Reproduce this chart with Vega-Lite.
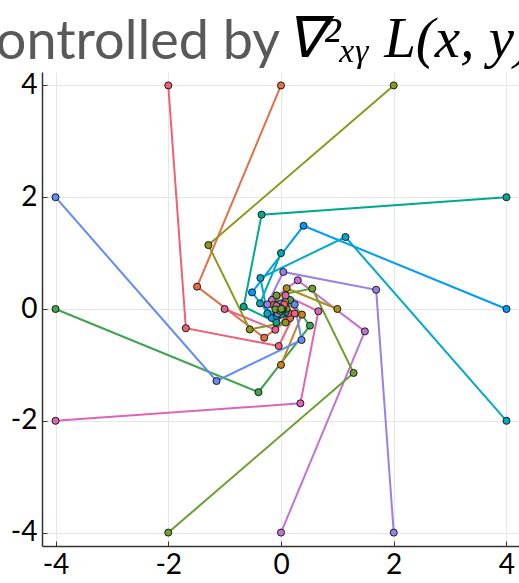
{
  "$schema": "https://vega.github.io/schema/vega-lite/v6.json",
  "width": 478,
  "height": 474,
  "autosize": {"type": "none"},
  "padding": {"left": 42, "top": 72, "right": 0, "bottom": 37},
  "background": "white",
  "config": {"view": {"stroke": null}},
  "data": {"values": [
    {"s":1,"k":0,"x":4,"y":0},{"s":1,"k":1,"x":0.4,"y":1.488},{"s":1,"k":2,"x":-0.5136,"y":0.2976},{"s":1,"k":3,"x":-0.1621,"y":-0.1613},{"s":1,"k":4,"x":0.0438,"y":-0.0764},{"s":1,"k":5,"x":0.0328,"y":0.0086},{"s":1,"k":6,"x":0.0001,"y":0.0131},{"s":1,"k":7,"x":-0.0049,"y":0.0013},
    {"s":2,"k":0,"x":0,"y":4},{"s":2,"k":1,"x":-1.488,"y":0.4},{"s":2,"k":2,"x":-0.2976,"y":-0.5136},{"s":2,"k":3,"x":0.1613,"y":-0.1621},{"s":2,"k":4,"x":0.0764,"y":0.0438},{"s":2,"k":5,"x":-0.0086,"y":0.0328},{"s":2,"k":6,"x":-0.0131,"y":0.0001},{"s":2,"k":7,"x":-0.0013,"y":-0.0049},
    {"s":3,"k":0,"x":-4,"y":0},{"s":3,"k":1,"x":-0.4,"y":-1.488},{"s":3,"k":2,"x":0.5136,"y":-0.2976},{"s":3,"k":3,"x":0.1621,"y":0.1613},{"s":3,"k":4,"x":-0.0438,"y":0.0764},{"s":3,"k":5,"x":-0.0328,"y":-0.0086},{"s":3,"k":6,"x":-0.0001,"y":-0.0131},{"s":3,"k":7,"x":0.0049,"y":-0.0013},
    {"s":4,"k":0,"x":0,"y":-4},{"s":4,"k":1,"x":1.488,"y":-0.4},{"s":4,"k":2,"x":0.2976,"y":0.5136},{"s":4,"k":3,"x":-0.1613,"y":0.1621},{"s":4,"k":4,"x":-0.0764,"y":-0.0438},{"s":4,"k":5,"x":0.0086,"y":-0.0328},{"s":4,"k":6,"x":0.0131,"y":-0.0001},{"s":4,"k":7,"x":0.0013,"y":0.0049},
    {"s":5,"k":0,"x":1,"y":0},{"s":5,"k":1,"x":0.1,"y":0.372},{"s":5,"k":2,"x":-0.1284,"y":0.0744},{"s":5,"k":3,"x":-0.0405,"y":-0.0403},{"s":5,"k":4,"x":0.011,"y":-0.0191},{"s":5,"k":5,"x":0.0082,"y":0.0022},{"s":5,"k":6,"x":0,"y":0.0033},{"s":5,"k":7,"x":-0.0012,"y":0.0003},
    {"s":6,"k":0,"x":0,"y":1},{"s":6,"k":1,"x":-0.372,"y":0.1},{"s":6,"k":2,"x":-0.0744,"y":-0.1284},{"s":6,"k":3,"x":0.0403,"y":-0.0405},{"s":6,"k":4,"x":0.0191,"y":0.011},{"s":6,"k":5,"x":-0.0022,"y":0.0082},{"s":6,"k":6,"x":-0.0033,"y":0},{"s":6,"k":7,"x":-0.0003,"y":-0.0012},
    {"s":7,"k":0,"x":-1,"y":0},{"s":7,"k":1,"x":-0.1,"y":-0.372},{"s":7,"k":2,"x":0.1284,"y":-0.0744},{"s":7,"k":3,"x":0.0405,"y":0.0403},{"s":7,"k":4,"x":-0.011,"y":0.0191},{"s":7,"k":5,"x":-0.0082,"y":-0.0022},{"s":7,"k":6,"x":0,"y":-0.0033},{"s":7,"k":7,"x":0.0012,"y":-0.0003},
    {"s":8,"k":0,"x":0,"y":-1},{"s":8,"k":1,"x":0.372,"y":-0.1},{"s":8,"k":2,"x":0.0744,"y":0.1284},{"s":8,"k":3,"x":-0.0403,"y":0.0405},{"s":8,"k":4,"x":-0.0191,"y":-0.011},{"s":8,"k":5,"x":0.0022,"y":-0.0082},{"s":8,"k":6,"x":0.0033,"y":0},{"s":8,"k":7,"x":0.0003,"y":0.0012},
    {"s":9,"k":0,"x":4,"y":2},{"s":9,"k":1,"x":-0.344,"y":1.688},{"s":9,"k":2,"x":-0.6624,"y":0.0408},{"s":9,"k":3,"x":-0.0814,"y":-0.2422},{"s":9,"k":4,"x":0.082,"y":-0.0545},{"s":9,"k":5,"x":0.0285,"y":0.025},{"s":9,"k":6,"x":-0.0065,"y":0.0131},{"s":9,"k":7,"x":-0.0055,"y":-0.0011},
    {"s":10,"k":0,"x":2,"y":4},{"s":10,"k":1,"x":-1.288,"y":1.144},{"s":10,"k":2,"x":-0.5544,"y":-0.3648},{"s":10,"k":3,"x":0.0802,"y":-0.2426},{"s":10,"k":4,"x":0.0983,"y":0.0056},{"s":10,"k":5,"x":0.0078,"y":0.0371},{"s":10,"k":6,"x":-0.013,"y":0.0066},{"s":10,"k":7,"x":-0.0038,"y":-0.0042},
    {"s":11,"k":0,"x":4,"y":-2},{"s":11,"k":1,"x":1.144,"y":1.288},{"s":11,"k":2,"x":-0.3648,"y":0.5544},{"s":11,"k":3,"x":-0.2426,"y":-0.0802},{"s":11,"k":4,"x":0.0056,"y":-0.0983},{"s":11,"k":5,"x":0.0371,"y":-0.0078},{"s":11,"k":6,"x":0.0066,"y":0.0131},{"s":11,"k":7,"x":-0.0042,"y":0.0038},
    {"s":12,"k":0,"x":2,"y":-4},{"s":12,"k":1,"x":1.688,"y":0.344},{"s":12,"k":2,"x":0.0408,"y":0.6624},{"s":12,"k":3,"x":-0.2422,"y":0.0814},{"s":12,"k":4,"x":-0.0545,"y":-0.082},{"s":12,"k":5,"x":0.025,"y":-0.0285},{"s":12,"k":6,"x":0.0131,"y":0.0065},{"s":12,"k":7,"x":-0.0011,"y":0.0055},
    {"s":13,"k":0,"x":-4,"y":2},{"s":13,"k":1,"x":-1.144,"y":-1.288},{"s":13,"k":2,"x":0.3648,"y":-0.5544},{"s":13,"k":3,"x":0.2426,"y":0.0802},{"s":13,"k":4,"x":-0.0056,"y":0.0983},{"s":13,"k":5,"x":-0.0371,"y":0.0078},{"s":13,"k":6,"x":-0.0066,"y":-0.0131},{"s":13,"k":7,"x":0.0042,"y":-0.0038},
    {"s":14,"k":0,"x":-2,"y":4},{"s":14,"k":1,"x":-1.688,"y":-0.344},{"s":14,"k":2,"x":-0.0408,"y":-0.6624},{"s":14,"k":3,"x":0.2422,"y":-0.0814},{"s":14,"k":4,"x":0.0545,"y":0.082},{"s":14,"k":5,"x":-0.025,"y":0.0285},{"s":14,"k":6,"x":-0.0131,"y":-0.0065},{"s":14,"k":7,"x":0.0011,"y":-0.0055},
    {"s":15,"k":0,"x":-4,"y":-2},{"s":15,"k":1,"x":0.344,"y":-1.688},{"s":15,"k":2,"x":0.6624,"y":-0.0408},{"s":15,"k":3,"x":0.0814,"y":0.2422},{"s":15,"k":4,"x":-0.082,"y":0.0545},{"s":15,"k":5,"x":-0.0285,"y":-0.025},{"s":15,"k":6,"x":0.0065,"y":-0.0131},{"s":15,"k":7,"x":0.0055,"y":0.0011},
    {"s":16,"k":0,"x":-2,"y":-4},{"s":16,"k":1,"x":1.288,"y":-1.144},{"s":16,"k":2,"x":0.5544,"y":0.3648},{"s":16,"k":3,"x":-0.0802,"y":0.2426},{"s":16,"k":4,"x":-0.0983,"y":-0.0056},{"s":16,"k":5,"x":-0.0078,"y":-0.0371},{"s":16,"k":6,"x":0.013,"y":-0.0066},{"s":16,"k":7,"x":0.0038,"y":0.0042}
  ]},
  "layer": [
    {
      "mark": {"type": "line", "strokeWidth": 2},
      "encoding": {
        "x": {
          "field": "x", "type": "quantitative",
          "scale": {"domain": [-4.24, 4.24], "nice": false, "zero": false},
          "axis": {
            "values": [-4, -2, 0, 2, 4],
            "labelExpr": "'' + datum.value",
            "grid": true, "gridColor": "#e6e6e6", "gridWidth": 1,
            "domainColor": "#333333", "domainWidth": 1.5,
            "tickColor": "#333333", "tickSize": -5, "tickWidth": 1,
            "labelFont": "Lato", "labelFontSize": 28, "labelColor": "#000000", "labelPadding": 10,
            "title": "∇²ₓᵧ L(x, y)",
            "titleFont": "Liberation Serif", "titleFontStyle": "italic", "titleFontWeight": "normal",
            "titleFontSize": 57, "titleColor": "#000000",
            "titleAlign": "left", "titleBaseline": "alphabetic", "titleAngle": 0,
            "titleX": 243, "titleY": -490
          }
        },
        "y": {
          "field": "y", "type": "quantitative",
          "scale": {"domain": [-4.24, 4.24], "nice": false, "zero": false},
          "axis": {
            "values": [-4, -2, 0, 2, 4],
            "labelExpr": "'' + datum.value",
            "grid": true, "gridColor": "#e6e6e6", "gridWidth": 1,
            "domainColor": "#333333", "domainWidth": 1.5,
            "tickColor": "#333333", "tickSize": -5, "tickWidth": 1,
            "labelFont": "Lato", "labelFontSize": 28, "labelColor": "#000000", "labelPadding": 10,
            "title": "controlled by",
            "titleFont": "Lato", "titleFontWeight": "normal", "titleFontSize": 54, "titleColor": "#595959",
            "titleAlign": "left", "titleBaseline": "alphabetic", "titleAngle": 0,
            "titleX": -72, "titleY": -14
          }
        },
        "color": {
          "field": "s", "type": "nominal",
          "scale": {"domain": [1,2,3,4,5,6,7,8,9,10,11,12,13,14,15,16],
                    "range": ["#009AFA","#E36F47","#3EA44E","#C371D2","#AC8E18","#00AAAE","#ED5E93","#C68225","#00A98D","#8E971D","#00A9CB","#9B7FE8","#618CF5","#F06073","#DD65B6","#6C9F32"]},
          "legend": null
        },
        "order": {"field": "k", "type": "quantitative"}
      }
    },
    {
      "mark": {"type": "circle", "size": 50, "opacity": 1, "stroke": "#1a1a1a", "strokeWidth": 1},
      "encoding": {
        "x": {"field": "x", "type": "quantitative"},
        "y": {"field": "y", "type": "quantitative"},
        "fill": {
          "field": "s", "type": "nominal",
          "scale": {"domain": [1,2,3,4,5,6,7,8,9,10,11,12,13,14,15,16],
                    "range": ["#009AFA","#E36F47","#3EA44E","#C371D2","#AC8E18","#00AAAE","#ED5E93","#C68225","#00A98D","#8E971D","#00A9CB","#9B7FE8","#618CF5","#F06073","#DD65B6","#6C9F32"]},
          "legend": null
        }
      }
    }
  ]
}
